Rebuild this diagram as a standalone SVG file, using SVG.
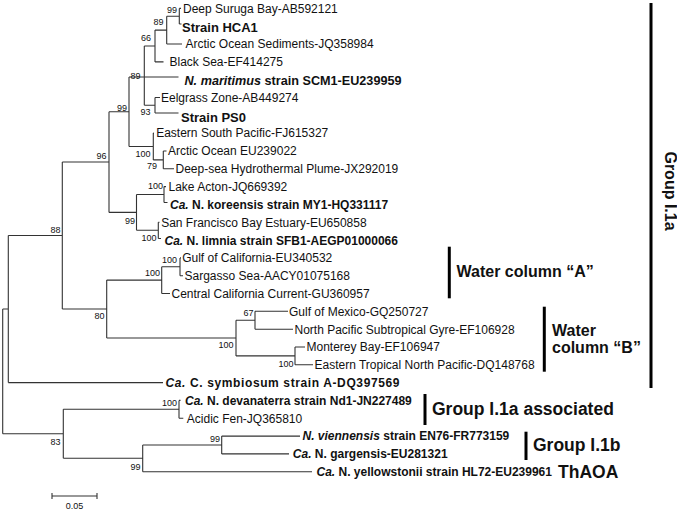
<svg xmlns="http://www.w3.org/2000/svg" width="677" height="510" viewBox="0 0 677 510">
<style>
text{font-family:"Liberation Sans",Arial,sans-serif;fill:#111}
.t{font-size:12px}
.b{font-size:12px;font-weight:bold}
.b13{font-size:13px;font-weight:bold}
.bs{font-size:9px;text-anchor:end}
.g{font-size:17.5px;font-weight:bold}
.w{font-size:16px;font-weight:bold}
.br{fill:none;stroke:#333;stroke-width:1.1}
.bar{stroke:#000;stroke-width:3}
</style>
<rect width="677" height="510" fill="#fff"/>
<g id="connectors" class="br">
<path d="M2.7,309V433.8M2.7,309H8.3M2.7,433.8H63.3
M8.3,235.5V382.6M8.3,235.5H62.3M8.3,382.6H163
M62.3,162V309M62.3,162H109M62.3,309H106.7
M109,111.75V212.4M109,111.75H129M109,212.4H136.5
M129,77V146.5M129,77H144.3M129,146.5H153.3
M144.3,46V105.25M144.3,46H155M144.3,77H178.5M144.3,105.25H155
M155,30.1V61.9M155,30.1H166.7M155,61.9H163.5
M166.7,16.2V44M166.7,16.2H179.3M166.7,44H182
M179.3,8.4V24M179.3,8.4H181M179.3,24H181.5
M155,97.5V113M155,97.5H160M155,113H178.5
M153.3,133.1V159.9M153.3,133.1H154M153.3,159.9H163.3
M163.3,151V168.8M163.3,151H166.5M163.3,168.8H174
M136.5,194.5V230.3M136.5,194.5H164M136.5,230.3H158.3
M164,186.6V202.5M164,186.6H166M164,202.5H167.5
M158.3,222.2V238.5M158.3,222.2H159.5M158.3,238.5H161
M106.7,280.1V338M106.7,280.1H161.7M106.7,338H236
M161.7,266.8V293.5M161.7,266.8H180M161.7,293.5H170
M180,257.9V275.7M180,257.9H181M180,275.7H183
M236,320.2V355.9M236,320.2H255M236,355.9H295
M255,311.3V329.2M255,311.3H288M255,329.2H293
M295,347V364.8M295,347H305M295,364.8H313
M63.3,409.3V458.3M63.3,409.3H179M63.3,458.3H142.7
M179,400.4V418.2M179,400.4H180.5M179,418.2H183.3
M142.7,445V471.7M142.7,445H221.7M142.7,471.7H312
M221.7,436.1V453.9M221.7,436.1H300M221.7,453.9H289"/>
</g>
<g id="leaves">
<g id="l1"><text class="t" x="183" y="12.7">Deep Suruga Bay-AB592121</text></g>
<g id="l2"><text class="b13" x="182" y="31.7">Strain HCA1</text></g>
<g id="l3"><text class="t" x="185.5" y="48.3">Arctic Ocean Sediments-JQ358984</text></g>
<g id="l4"><text class="t" x="169.5" y="66.2">Black Sea-EF414275</text></g>
<g id="l5"><text class="b13" x="184.5" y="84.7" textLength="217" lengthAdjust="spacingAndGlyphs"><tspan font-style="italic">N. maritimus</tspan> strain SCM1-EU239959</text></g>
<g id="l6"><text class="t" x="161" y="101.8">Eelgrass Zone-AB449274</text></g>
<g id="l7"><text class="b13" x="181" y="121.7">Strain PS0</text></g>
<g id="l8"><text class="t" x="156.2" y="137.4">Eastern South Pacific-FJ615327</text></g>
<g id="l9"><text class="t" x="168" y="155.3">Arctic Ocean EU239022</text></g>
<g id="l10"><text class="t" x="175.5" y="173.1">Deep-sea Hydrothermal Plume-JX292019</text></g>
<g id="l11"><text class="t" x="168.5" y="190.9">Lake Acton-JQ669392</text></g>
<g id="l12"><text class="b" x="170" y="209.3"><tspan font-style="italic">Ca.</tspan> N. koreensis strain MY1-HQ331117</text></g>
<g id="l13"><text class="t" x="161.2" y="226.5">San Francisco Bay Estuary-EU650858</text></g>
<g id="l14"><text class="b" x="164.5" y="244.8"><tspan font-style="italic">Ca.</tspan> N. limnia strain SFB1-AEGP01000066</text></g>
<g id="l15"><text class="t" x="182.2" y="262.2">Gulf of California-EU340532</text></g>
<g id="l16"><text class="t" x="184.5" y="280">Sargasso Sea-AACY01075168</text></g>
<g id="l17"><text class="t" x="171.5" y="297.8">Central California Current-GU360957</text></g>
<g id="l18"><text class="t" x="289" y="315.6">Gulf of Mexico-GQ250727</text></g>
<g id="l19"><text class="t" x="294.5" y="333.5">North Pacific Subtropical Gyre-EF106928</text></g>
<g id="l20"><text class="t" x="306.5" y="351.3">Monterey Bay-EF106947</text></g>
<g id="l21"><text class="t" x="314.5" y="369.1">Eastern Tropical North Pacific-DQ148768</text></g>
<g id="l22"><text class="b" x="165.5" y="386.9" textLength="234" lengthAdjust="spacing"><tspan font-style="italic">Ca.</tspan> C. symbiosum strain A-DQ397569</text></g>
<g id="l23"><text class="b" x="185" y="404.7"><tspan font-style="italic">Ca.</tspan> N. devanaterra strain Nd1-JN227489</text></g>
<g id="l24"><text class="t" x="186.8" y="422.5">Acidic Fen-JQ365810</text></g>
<g id="l25"><text class="b" x="302.5" y="440.4"><tspan font-style="italic">N. viennensis</tspan> strain EN76-FR773159</text></g>
<g id="l26"><text class="b" x="292.8" y="458.2"><tspan font-style="italic">Ca.</tspan> N. gargensis-EU281321</text></g>
<g id="l27"><text class="b" x="316.5" y="476"><tspan font-style="italic">Ca.</tspan> N. yellowstonii strain HL72-EU239961</text></g>
</g>
<g id="bootstrap">
<text class="bs" x="177" y="12.7">99</text>
<text class="bs" x="163.5" y="25">89</text>
<text class="bs" x="151" y="41">66</text>
<text class="bs" x="140.5" y="79.2">89</text>
<text class="bs" x="150.5" y="115">93</text>
<text class="bs" x="127" y="110.5">99</text>
<text class="bs" x="106.5" y="159.2">96</text>
<text class="bs" x="150.5" y="156.5">100</text>
<text class="bs" x="157" y="169">79</text>
<text class="bs" x="163" y="189">100</text>
<text class="bs" x="135" y="224">99</text>
<text class="bs" x="156.5" y="240.5">100</text>
<text class="bs" x="60.5" y="232.5">88</text>
<text class="bs" x="177" y="262.5">100</text>
<text class="bs" x="160" y="276">100</text>
<text class="bs" x="104.5" y="319.2">80</text>
<text class="bs" x="253.5" y="316">67</text>
<text class="bs" x="233.5" y="348.2">100</text>
<text class="bs" x="293.5" y="366.5">100</text>
<text class="bs" x="177" y="406">100</text>
<text class="bs" x="60.5" y="445">83</text>
<text class="bs" x="220" y="441.5">99</text>
<text class="bs" x="140.5" y="470">99</text>
</g>
<g id="scale">
<path class="br" d="M52,496H97M52,493V499M97,493V499"/>
<text x="74.5" y="509" font-size="9px" text-anchor="middle">0.05</text>
</g>
<g id="group-I1a">
<line class="bar" x1="651" y1="3" x2="651" y2="388"/>
<text class="w" transform="translate(664.5,191) rotate(90)" text-anchor="middle">Group I.1a</text>
</g>
<g id="water-A">
<line class="bar" x1="449.3" y1="246.7" x2="449.3" y2="298.3" stroke-width="2.6"/>
<text class="w" x="456.5" y="276.7">Water column “A”</text>
</g>
<g id="water-B">
<line class="bar" x1="544.3" y1="306.7" x2="544.3" y2="371.7" stroke-width="2.6"/>
<text class="w" x="552" y="335.7">Water</text>
<text class="w" x="552" y="353.4">column “B”</text>
</g>
<g id="group-I1a-assoc">
<line class="bar" x1="425" y1="394" x2="425" y2="425"/>
<text class="g" x="432" y="415.3">Group I.1a associated</text>
</g>
<g id="group-I1b">
<line class="bar" x1="526" y1="431.7" x2="526" y2="460"/>
<text class="g" x="533" y="451.3">Group I.1b</text>
</g>
<g id="thaoa">
<text class="g" x="558" y="478">ThAOA</text>
</g>
</svg>
